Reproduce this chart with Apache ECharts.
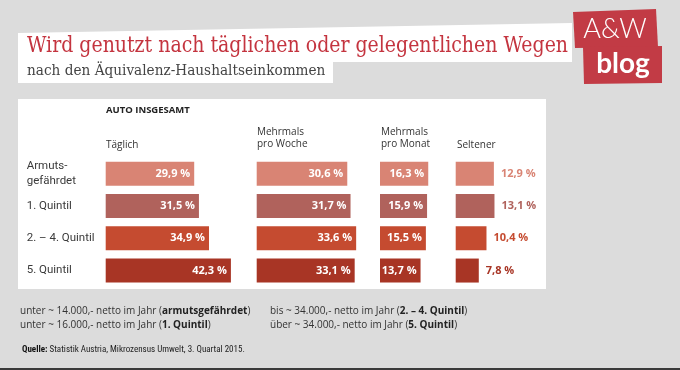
<!DOCTYPE html>
<html><head><meta charset="utf-8">
<script src="https://cdn.jsdelivr.net/npm/echarts@6/dist/echarts.min.js"></script>
<style>html,body{margin:0;padding:0;background:#dcdcdc}#c{width:680px;height:370px}</style>
</head><body><div id="c"></div>
<script>
const categories = ["Armuts-\ngefährdet", "1. Quintil", "2. – 4. Quintil", "5. Quintil"];
const taeglich = [29.9, 31.5, 34.9, 42.3];
const mehrmalsWoche = [30.6, 31.7, 33.6, 33.1];
const mehrmalsMonat = [16.3, 15.9, 15.5, 13.7];
const seltener = [12.9, 13.1, 10.4, 7.8];
const columnHeaders = ["Täglich", "Mehrmals\npro Woche", "Mehrmals\npro Monat", "Seltener"];
const sectionTitle = "AUTO INSGESAMT";
const titleText = "Wird genutzt nach täglichen oder gelegentlichen Wegen";
const subtitleText = "nach den Äquivalenz-Haushaltseinkommen";

const rowColors = ["#d98474", "#b0625c", "#c54b30", "#a83525"];
const font = "'Open Sans', sans-serif";
const pxPerUnit = 2.96;
const cols = [
  {left: 105.7, max: 50, data: taeglich, inside: true},
  {left: 256.7, max: 40, data: mehrmalsWoche, inside: true},
  {left: 380, max: 25, data: mehrmalsMonat, inside: true},
  {left: 455.7, max: 30, data: seltener, inside: false}
];
const gridTop = 157.5, gridH = 129.2;
const fmt = v => String(v.toFixed(1)).replace('.', ',') + ' %';

const grids = [], xAxes = [], yAxes = [], series = [];
cols.forEach((c, i) => {
  grids.push({left: c.left, top: gridTop, width: c.max * pxPerUnit, height: gridH, containLabel: false});
  xAxes.push({type: 'value', gridIndex: i, min: 0, max: c.max, show: false});
  yAxes.push({type: 'category', gridIndex: i, data: categories, inverse: true,
    axisLine: {show: false}, axisTick: {show: false}, splitLine: {show: false},
    axisLabel: {show: i === 0, align: 'left', margin: 79, fontFamily: "Roboto, sans-serif", fontSize: 11.5, color: '#3a3a3a', lineHeight: 15}});
  series.push({type: 'bar', xAxisIndex: i, yAxisIndex: i, barWidth: 24,
    data: c.data.map((v, k) => ({value: v, itemStyle: {color: rowColors[k]},
      label: c.inside ? {} : {color: rowColors[k]}})),
    label: {show: true, position: c.inside ? 'insideRight' : 'right', distance: c.inside ? 4 : 7,
      formatter: p => fmt(p.value), fontFamily: font, fontWeight: 'bold', fontSize: 11, color: '#fff'},
    animation: false});
});

const headerX = [106, 257, 381, 457];
const headerGraphics = columnHeaders.map((h, i) => ({type: 'text', left: headerX[i],
  top: h.includes('\n') ? 126 : 139,
  style: {text: h, font: "10px 'Open Sans', sans-serif", fill: '#333', lineHeight: 12}}));

const noteRich = {n: {fontFamily: font, fontSize: 10, fill: '#333'}, b: {fontFamily: font, fontSize: 10, fontWeight: 'bold', fill: '#222'}};

const chart = echarts.init(document.getElementById('c'));
chart.setOption({
  backgroundColor: '#dcdcdc',
  animation: false,
  grid: grids, xAxis: xAxes, yAxis: yAxes, series: series,
  graphic: [
    {type: 'rect', shape: {x: 18, y: 99, width: 528, height: 190}, style: {fill: '#fff'}, z: -10},
    {type: 'polygon', shape: {points: [[18, 33], [572, 23], [572, 62], [18, 62]]}, style: {fill: '#fff'}, z: -10},
    {type: 'rect', shape: {x: 18, y: 58, width: 315, height: 25}, style: {fill: '#fff'}, z: -10},
    {type: 'text', x: 27, y: 46, scaleX: 0.86, style: {text: titleText, font: "22px 'DejaVu Serif', serif", fill: '#c4343f', verticalAlign: 'middle'}},
    {type: 'text', x: 27, y: 71, scaleX: 0.91, style: {text: subtitleText, font: "15px 'DejaVu Serif', serif", fill: '#444', verticalAlign: 'middle'}},
    {type: 'polygon', shape: {points: [[573, 12], [656, 9], [658, 47], [575, 48]]}, style: {fill: '#c23b45'}},
    {type: 'polygon', shape: {points: [[583, 47], [662, 46], [662, 83], [584, 84]]}, style: {fill: '#c23b45'}},
    {type: 'text', x: 615, y: 29, style: {text: 'A&W', font: "300 27px Lato, sans-serif", fill: '#fff', align: 'center', verticalAlign: 'middle'}},
    {type: 'text', x: 623, y: 64, style: {text: 'blog', font: "bold 28px Lato, sans-serif", fill: '#fff', align: 'center', verticalAlign: 'middle'}},
    {type: 'text', left: 106, top: 105, style: {text: sectionTitle, font: "bold 9.5px 'Open Sans', sans-serif", fill: '#222'}},
    ...headerGraphics,
    {type: 'text', left: 20, top: 304, style: {rich: noteRich, lineHeight: 14,
      text: '{n|unter ~ 14.000,- netto im Jahr (}{b|armutsgefährdet}{n|)}\n{n|unter ~ 16.000,- netto im Jahr (}{b|1. Quintil}{n|)}'}},
    {type: 'text', left: 270, top: 304, style: {rich: noteRich, lineHeight: 14,
      text: '{n|bis ~ 34.000,- netto im Jahr (}{b|2. – 4. Quintil}{n|)}\n{n|über ~ 34.000,- netto im Jahr (}{b|5. Quintil}{n|)}'}},
    {type: 'text', left: 22, top: 345, style: {rich: {b: {fontFamily: "'Liberation Sans Narrow', 'Roboto Condensed', sans-serif", fontSize: 9, fontWeight: 'bold', fill: '#111'}, n: {fontFamily: "'Liberation Sans Narrow', 'Roboto Condensed', sans-serif", fontSize: 9, fill: '#222'}},
      text: '{b|Quelle:}{n| Statistik Austria, Mikrozensus Umwelt, 3. Quartal 2015.}'}},
    {type: 'rect', shape: {x: 0, y: 368, width: 680, height: 2}, style: {fill: '#3a3a3a'}}
  ]
});
</script></body></html>
